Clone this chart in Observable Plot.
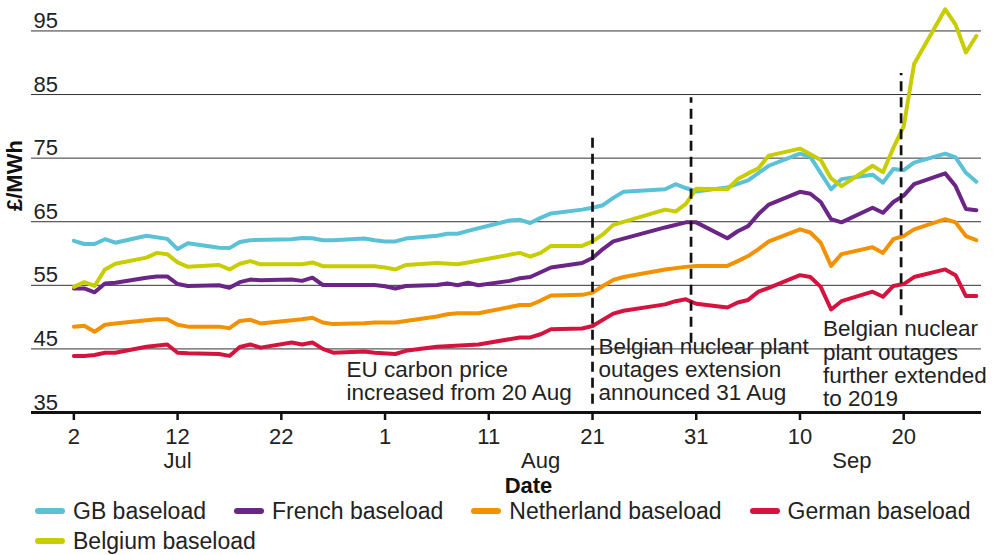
<!DOCTYPE html>
<html><head><meta charset="utf-8">
<script src="https://cdn.jsdelivr.net/npm/d3@7"></script>
<script src="https://cdn.jsdelivr.net/npm/@observablehq/plot@0.6"></script>
<style>
body{margin:0;background:#fff;font-family:"Liberation Sans",Arial,sans-serif;color:#222;}
#chart svg{display:block;}
#legend{display:flex;flex-wrap:wrap;width:966px;padding-left:35px;margin-top:-5px;}
.item{display:flex;align-items:center;height:30px;margin-right:28px;font-size:23px;}
.sw{width:30px;height:6px;border-radius:3px;margin-right:8px;}
</style></head><body><div id="chart"></div><div id="legend"></div>
<script>
const gbBaseload = [["2018-07-02",62.0],["2018-07-03",61.5],["2018-07-04",61.5],["2018-07-05",62.25],["2018-07-06",61.7],["2018-07-09",62.8],["2018-07-11",62.3],["2018-07-12",60.7],["2018-07-13",61.6],["2018-07-16",60.9],["2018-07-17",60.85],["2018-07-18",61.8],["2018-07-19",62.1],["2018-07-23",62.25],["2018-07-24",62.45],["2018-07-25",62.4],["2018-07-26",62.1],["2018-07-27",62.1],["2018-07-30",62.35],["2018-07-31",62.1],["2018-08-01",61.9],["2018-08-02",61.9],["2018-08-03",62.35],["2018-08-06",62.8],["2018-08-07",63.1],["2018-08-08",63.1],["2018-08-09",63.55],["2018-08-13",65.2],["2018-08-14",65.3],["2018-08-15",64.8],["2018-08-16",65.6],["2018-08-17",66.3],["2018-08-20",66.9],["2018-08-21",67.2],["2018-08-22",67.6],["2018-08-23",68.75],["2018-08-24",69.7],["2018-08-28",70.1],["2018-08-29",70.9],["2018-08-30",70.3],["2018-08-31",69.75],["2018-09-03",70.4],["2018-09-05",71.5],["2018-09-07",73.8],["2018-09-10",75.7],["2018-09-11",75.2],["2018-09-13",70.1],["2018-09-14",71.7],["2018-09-17",72.4],["2018-09-18",71.15],["2018-09-19",73.3],["2018-09-20",73.1],["2018-09-21",74.3],["2018-09-24",75.7],["2018-09-25",75.1],["2018-09-26",72.7],["2018-09-27",71.3]];
const frenchBaseload = [["2018-07-02",54.5],["2018-07-03",54.5],["2018-07-04",53.9],["2018-07-05",55.3],["2018-07-06",55.4],["2018-07-09",56.2],["2018-07-10",56.4],["2018-07-11",56.4],["2018-07-12",55.2],["2018-07-13",54.9],["2018-07-16",55.0],["2018-07-17",54.6],["2018-07-18",55.5],["2018-07-19",55.9],["2018-07-20",55.8],["2018-07-23",55.9],["2018-07-24",55.7],["2018-07-25",56.2],["2018-07-26",55.05],["2018-07-31",55.05],["2018-08-01",54.85],["2018-08-02",54.5],["2018-08-03",54.9],["2018-08-06",55.05],["2018-08-07",55.3],["2018-08-08",55.0],["2018-08-09",55.4],["2018-08-10",55.0],["2018-08-13",55.7],["2018-08-14",56.1],["2018-08-15",56.3],["2018-08-16",57.05],["2018-08-17",57.8],["2018-08-20",58.5],["2018-08-21",59.3],["2018-08-22",60.7],["2018-08-23",61.9],["2018-08-28",64.1],["2018-08-30",64.9],["2018-08-31",64.9],["2018-09-03",62.4],["2018-09-04",63.5],["2018-09-05",64.3],["2018-09-06",66.2],["2018-09-07",67.7],["2018-09-10",69.7],["2018-09-11",69.4],["2018-09-12",68.1],["2018-09-13",65.4],["2018-09-14",64.9],["2018-09-17",67.2],["2018-09-18",66.4],["2018-09-19",68.1],["2018-09-20",69.1],["2018-09-21",70.9],["2018-09-24",72.6],["2018-09-25",70.6],["2018-09-26",67.0],["2018-09-27",66.8]];
const netherlandBaseload = [["2018-07-02",48.5],["2018-07-03",48.65],["2018-07-04",47.7],["2018-07-05",48.8],["2018-07-06",49.0],["2018-07-09",49.5],["2018-07-10",49.65],["2018-07-11",49.65],["2018-07-12",48.8],["2018-07-13",48.5],["2018-07-16",48.5],["2018-07-17",48.25],["2018-07-18",49.4],["2018-07-19",49.6],["2018-07-20",49.0],["2018-07-24",49.65],["2018-07-25",49.9],["2018-07-26",49.15],["2018-07-27",48.9],["2018-07-30",49.05],["2018-07-31",49.15],["2018-08-02",49.15],["2018-08-06",50.1],["2018-08-07",50.45],["2018-08-08",50.6],["2018-08-10",50.6],["2018-08-14",51.9],["2018-08-15",51.9],["2018-08-16",52.6],["2018-08-17",53.4],["2018-08-20",53.5],["2018-08-21",53.85],["2018-08-22",54.9],["2018-08-23",55.85],["2018-08-24",56.3],["2018-08-28",57.5],["2018-08-30",57.9],["2018-08-31",58.05],["2018-09-03",58.05],["2018-09-04",58.8],["2018-09-05",59.6],["2018-09-06",60.7],["2018-09-07",61.9],["2018-09-10",63.8],["2018-09-11",63.3],["2018-09-12",61.7],["2018-09-13",58.05],["2018-09-14",59.9],["2018-09-17",61.0],["2018-09-18",60.1],["2018-09-19",62.25],["2018-09-20",62.75],["2018-09-21",63.8],["2018-09-24",65.4],["2018-09-25",64.9],["2018-09-26",62.75],["2018-09-27",62.1]];
const germanBaseload = [["2018-07-02",43.9],["2018-07-03",43.9],["2018-07-04",44.05],["2018-07-05",44.4],["2018-07-06",44.4],["2018-07-09",45.35],["2018-07-11",45.7],["2018-07-12",44.4],["2018-07-13",44.3],["2018-07-16",44.2],["2018-07-17",43.9],["2018-07-18",45.3],["2018-07-19",45.7],["2018-07-20",45.2],["2018-07-23",46.0],["2018-07-24",45.7],["2018-07-25",46.0],["2018-07-26",45.0],["2018-07-27",44.4],["2018-07-30",44.6],["2018-07-31",44.4],["2018-08-02",44.2],["2018-08-03",44.7],["2018-08-06",45.35],["2018-08-10",45.7],["2018-08-14",46.8],["2018-08-15",46.8],["2018-08-16",47.3],["2018-08-17",48.1],["2018-08-20",48.2],["2018-08-21",48.6],["2018-08-23",50.55],["2018-08-24",51.0],["2018-08-28",52.0],["2018-08-29",52.5],["2018-08-30",52.8],["2018-08-31",52.1],["2018-09-03",51.5],["2018-09-04",52.3],["2018-09-05",52.7],["2018-09-06",54.0],["2018-09-07",54.6],["2018-09-10",56.6],["2018-09-11",56.3],["2018-09-12",54.75],["2018-09-13",51.2],["2018-09-14",52.5],["2018-09-17",54.0],["2018-09-18",53.2],["2018-09-19",54.9],["2018-09-20",55.2],["2018-09-21",56.3],["2018-09-24",57.5],["2018-09-25",56.6],["2018-09-26",53.3],["2018-09-27",53.3]];
const belgiumBaseload = [["2018-07-02",54.75],["2018-07-03",55.5],["2018-07-04",54.9],["2018-07-05",57.5],["2018-07-06",58.4],["2018-07-09",59.35],["2018-07-10",60.1],["2018-07-11",59.9],["2018-07-12",58.6],["2018-07-13",57.9],["2018-07-16",58.2],["2018-07-17",57.5],["2018-07-18",58.4],["2018-07-19",58.8],["2018-07-20",58.3],["2018-07-24",58.3],["2018-07-25",58.6],["2018-07-26",58.0],["2018-07-31",58.0],["2018-08-01",57.8],["2018-08-02",57.5],["2018-08-03",58.2],["2018-08-06",58.5],["2018-08-08",58.3],["2018-08-09",58.6],["2018-08-14",60.1],["2018-08-15",59.5],["2018-08-16",60.1],["2018-08-17",61.2],["2018-08-20",61.2],["2018-08-21",61.9],["2018-08-22",63.0],["2018-08-23",64.5],["2018-08-28",66.9],["2018-08-29",66.6],["2018-08-30",67.8],["2018-08-31",70.2],["2018-09-03",70.1],["2018-09-04",71.7],["2018-09-05",72.6],["2018-09-06",73.4],["2018-09-07",75.4],["2018-09-10",76.5],["2018-09-11",75.6],["2018-09-12",74.7],["2018-09-13",71.8],["2018-09-14",70.6],["2018-09-17",73.8],["2018-09-18",72.8],["2018-09-19",76.6],["2018-09-20",80.0],["2018-09-21",89.8],["2018-09-24",98.4],["2018-09-25",96.0],["2018-09-26",91.6],["2018-09-27",94.2]];

const seriesNames = ["GB baseload","French baseload","Netherland baseload","German baseload","Belgium baseload"];
const seriesData = [gbBaseload, frenchBaseload, netherlandBaseload, germanBaseload, belgiumBaseload];
const seriesColors = ["#5BC1D7","#6A2587","#F39200","#D5133F","#C8CD00"];
const yTicks = [35,45,55,65,75,85,95];
const xTicks = ["2018-07-02","2018-07-12","2018-07-22","2018-08-01","2018-08-11","2018-08-21","2018-08-31","2018-09-10","2018-09-20"];
const monthLabels = [["2018-07-12","Jul"],["2018-08-16","Aug"],["2018-09-15","Sep"]];
const eventDates = ["2018-08-21T00:00Z","2018-08-30T12:00Z","2018-09-19T18:00Z"];
const eventTop = [78.9, 84.5, 88.3];
const eventBottom = [36.3, 45.9, 50.2];
const annotationTexts = ["EU carbon price\nincreased from 20 Aug","Belgian nuclear plant\noutages extension\nannounced 31 Aug","Belgian nuclear\nplant outages\nfurther extended\nto 2019"];
const annotationDates = ["2018-07-28T07:00Z","2018-08-21T14:00Z","2018-09-12T05:00Z"];
const annotationValues = [36.9, 36.9, 35.95];

const pd = s => new Date(s.length === 10 ? s + "T00:00Z" : s);
const rows = seriesData.flatMap((arr, i) => arr.map(([d, v]) => ({date: pd(d), value: v, series: seriesNames[i]})));
const events = eventDates.map((d, i) => ({date: pd(d), top: eventTop[i], bottom: eventBottom[i]}));
const annots = annotationTexts.map((t, i) => ({date: pd(annotationDates[i]), value: annotationValues[i], text: t}));
const x0 = new Date(Date.UTC(2018,5,27,22)), x1 = new Date(Date.UTC(2018,8,27,12));
const font = "'Liberation Sans', Arial, sans-serif";

const chart = Plot.plot({
  width: 1001, height: 501,
  marginLeft: 31, marginRight: 20, marginTop: 5, marginBottom: 89,
  x: {type: "utc", domain: [x0, x1]},
  y: {domain: [35, 99], axis: null},
  color: {domain: seriesNames, range: seriesColors},
  style: {fontFamily: font, fontSize: "22px", color: "#222", background: "#fff"},
  marks: [
    Plot.ruleY(yTicks.filter(v => v > 35), {stroke: "#333", strokeWidth: 1}),
    Plot.text(yTicks, {x: x0, y: d => d, text: d => String(d), textAnchor: "start", lineAnchor: "bottom", dx: 2, dy: -3, fontSize: 22, fill: "#222"}),
    Plot.line(rows, {x: "date", y: "value", stroke: "series", z: "series", strokeWidth: 4, strokeLinejoin: "round", strokeLinecap: "round"}),
    Plot.ruleX(events, {x: "date", y1: "bottom", y2: "top", stroke: "#111", strokeWidth: 2.7, strokeDasharray: "10,6"}),
    Plot.text(annots, {x: "date", y: "value", text: "text", textAnchor: "start", lineAnchor: "bottom", lineHeight: 1.04, fontSize: 22.5, fill: "#222"}),
    Plot.ruleY([35], {stroke: "#111", strokeWidth: 3}),
    Plot.axisX({ticks: xTicks.map(pd), tickFormat: d => String(d.getUTCDate()), tickSize: 8, tickPadding: 8, fontSize: 22, stroke: "#111", strokeWidth: 2.5, fill: "#222", label: null}),
    Plot.text(monthLabels, {x: d => pd(d[0]), text: d => d[1], frameAnchor: "bottom", lineAnchor: "bottom", dy: 55, fontSize: 22, fill: "#222"}),
    Plot.text(["Date"], {frameAnchor: "bottom", lineAnchor: "bottom", dx: 22, dy: 80, fontSize: 22, fontWeight: "bold", fill: "#111"}),
    Plot.text(["£/MWh"], {frameAnchor: "left", rotate: -90, dx: -17, dy: 2, fontSize: 22, fontWeight: "bold", fill: "#111"})
  ]
});
document.getElementById("chart").appendChild(chart);

const legend = document.getElementById("legend");
seriesNames.forEach((n, i) => {
  const it = document.createElement("div"); it.className = "item";
  const sw = document.createElement("div"); sw.className = "sw"; sw.style.background = seriesColors[i];
  const tx = document.createElement("span"); tx.textContent = n;
  it.appendChild(sw); it.appendChild(tx); legend.appendChild(it);
});
</script></body></html>
